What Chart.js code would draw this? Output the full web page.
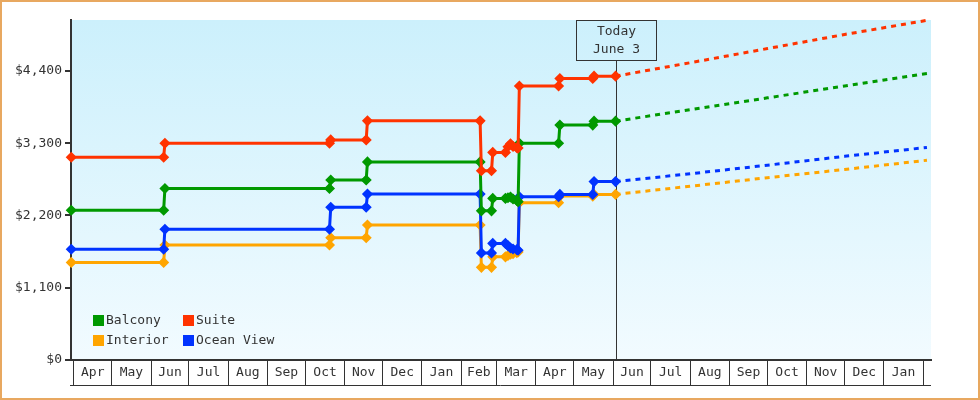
<!DOCTYPE html>
<html>
<head>
<meta charset="utf-8">
<script src="https://cdn.jsdelivr.net/npm/chart.js@4.4.0/dist/chart.umd.min.js"></script>
<style>
html,body{margin:0;padding:0;background:#fff;}
#wrap{width:980px;height:400px;position:relative;}
</style>
</head>
<body>
<div id="wrap"><canvas id="c" width="980" height="400"></canvas></div>
<script>
// ---------- DATA ----------
const monthNames = ['Jan','Feb','Mar','Apr','May','Jun','Jul','Aug','Sep','Oct','Nov','Dec'];

const historyDates = [
  '2017-03-30','2017-06-11','2017-06-12','2017-10-20','2017-10-21','2017-11-18','2017-11-19',
  '2018-02-16','2018-02-17','2018-02-25','2018-02-26','2018-03-08','2018-03-10','2018-03-12',
  '2018-03-14','2018-03-17','2018-03-18','2018-03-19','2018-04-19','2018-04-20','2018-05-16',
  '2018-05-17','2018-06-03'
];
const suitePrices     = [3085,3085,3300,3300,3350,3350,3640,3640,2880,2880,3160,3160,3245,3290,3250,3230,3225,4170,4170,4285,4285,4320,4320];
const balconyPrices   = [2280,2280,2610,2610,2740,2740,3015,3015,2270,2270,2460,2460,2470,2480,2450,2430,2410,3300,3300,3575,3575,3635,3635];
const oceanViewPrices = [1685,1685,1990,1990,2325,2325,2525,2525,1630,1630,1775,1775,1740,1705,1690,1680,1670,2485,2485,2520,2520,2715,2715];
const interiorPrices  = [1485,1485,1750,1750,1860,1860,2055,2055,1410,1410,1570,1570,1590,1610,1620,1635,1645,2395,2395,2495,2495,2520,2520];

const forecastDates = ['2018-06-03','2018-08-01','2018-10-01','2018-12-01','2019-02-04'];
const suiteForecast     = [4320,4525,4740,4955,5170];
const balconyForecast   = [3635,3810,3990,4170,4360];
const oceanViewForecast = [2715,2835,2965,3100,3235];
const interiorForecast  = [2520,2645,2775,2900,3040];

const yTickValues = [0,1100,2200,3300,4400];
const yMax = 5175;
const todayDate = '2018-06-03';
const todayLines = ['Today','June 3'];
const axisStartDate = '2017-03-30';
const axisEndDate = '2019-02-07';
const firstMonth = '2017-04-01';
const lastMonthEnd = '2019-02-01';

const seriesColors = {Balcony:'#009900', Suite:'#ff3300', Interior:'#ffa500', 'Ocean View':'#0033ff'};

// ---------- HELPERS ----------
const EPOCH = Date.UTC(2017,3,1);
const toDay = s => (Date.parse(s + 'T00:00:00Z') - EPOCH) / 864e5;
const FONT = '"DejaVu Sans Mono", monospace';
const INK = '#333333';

// month boundaries & label positions
const boundaries = [], mids = [], midLabels = [];
{
  const s = new Date(firstMonth + 'T00:00:00Z'), e = new Date(lastMonthEnd + 'T00:00:00Z');
  let y = s.getUTCFullYear(), m = s.getUTCMonth();
  while (Date.UTC(y,m,1) <= e.getTime()) {
    const a = (Date.UTC(y,m,1) - EPOCH)/864e5;
    boundaries.push(a);
    const b = (Date.UTC(y,m+1,1) - EPOCH)/864e5;
    if (Date.UTC(y,m+1,1) <= e.getTime()) { mids.push((a+b)/2); midLabels.push(monthNames[m]); }
    m++; if (m > 11) { m = 0; y++; }
  }
}

function mk(label, dates, vals, color, order, dashed) {
  return {
    label, order,
    data: dates.map((d,i) => ({x: toDay(d), y: vals[i]})),
    borderColor: color, backgroundColor: color,
    borderWidth: 3,
    borderDash: dashed ? [5,5] : [],
    pointStyle: 'rectRot',
    pointRadius: dashed ? 0 : 4.5,
    pointBorderWidth: 1.5,
    pointBorderColor: color,
    pointBackgroundColor: color,
    tension: 0, fill: false, clip: false
  };
}

const datasets = [
  mk('Suite', historyDates, suitePrices, seriesColors.Suite, 0, false),
  mk('Balcony', historyDates, balconyPrices, seriesColors.Balcony, 1, false),
  mk('Ocean View', historyDates, oceanViewPrices, seriesColors['Ocean View'], 2, false),
  mk('Interior', historyDates, interiorPrices, seriesColors.Interior, 3, false),
  mk('Suite forecast', forecastDates, suiteForecast, seriesColors.Suite, 4, true),
  mk('Balcony forecast', forecastDates, balconyForecast, seriesColors.Balcony, 5, true),
  mk('Ocean View forecast', forecastDates, oceanViewForecast, seriesColors['Ocean View'], 6, true),
  mk('Interior forecast', forecastDates, interiorForecast, seriesColors.Interior, 7, true)
];

const decor = {
  id: 'decor',
  beforeDraw(chart) {
    const {ctx, chartArea: a} = chart;
    ctx.save();
    ctx.fillStyle = '#ffffff';
    ctx.fillRect(0, 0, chart.width, chart.height);
    const g = ctx.createLinearGradient(0, a.top, 0, a.bottom);
    g.addColorStop(0, '#ccf0fc');
    g.addColorStop(1, '#f2fbff');
    ctx.fillStyle = g;
    ctx.fillRect(a.left, a.top, a.right - a.left, a.bottom - a.top);
    ctx.restore();
  },
  beforeDatasetsDraw(chart) {
    const {ctx, chartArea: a, scales} = chart;
    const x = Math.round(scales.x.getPixelForValue(toDay(todayDate))) + 0.5;
    ctx.save();
    ctx.strokeStyle = INK; ctx.lineWidth = 1;
    ctx.beginPath(); ctx.moveTo(x, a.top + 40); ctx.lineTo(x, a.bottom); ctx.stroke();
    ctx.restore();
  },
  afterDraw(chart) {
    const {ctx, chartArea: a, scales} = chart;
    ctx.save();
    // today box
    const x = Math.round(scales.x.getPixelForValue(toDay(todayDate))) + 0.5;
    ctx.strokeStyle = INK; ctx.lineWidth = 1;
    ctx.strokeRect(x - 40, a.top + 0.5, 80, 40);
    ctx.fillStyle = INK;
    ctx.font = '13px ' + FONT;
    ctx.textAlign = 'center'; ctx.textBaseline = 'middle';
    ctx.fillText(todayLines[0], x, a.top + 12);
    ctx.fillText(todayLines[1], x, a.top + 30);
    // bottom line of month boxes
    ctx.beginPath();
    ctx.moveTo(a.left - 1, a.bottom + 25.5); ctx.lineTo(a.right, a.bottom + 25.5); ctx.stroke();
    // legend
    const pos = [[93,315],[183,315],[93,335],[183,335]];
    const order = ['Balcony','Suite','Interior','Ocean View'];
    ctx.textAlign = 'left';
    order.forEach((n,i) => {
      const [lx, ly] = pos[i];
      ctx.fillStyle = seriesColors[n];
      ctx.fillRect(lx, ly, 11, 11);
      ctx.fillStyle = INK;
      ctx.fillText(n, lx + 13, ly + 6);
    });
    // outer border
    ctx.strokeStyle = '#e8a860'; ctx.lineWidth = 2;
    ctx.strokeRect(1, 1, chart.width - 2, chart.height - 2);
    ctx.restore();
  }
};

new Chart(document.getElementById('c'), {
  type: 'line',
  data: { datasets },
  options: {
    responsive: false, animation: false, events: [],
    layout: { padding: { top: 20, right: 49, left: 0, bottom: 0 } },
    plugins: { legend: { display: false }, tooltip: { enabled: false } },
    scales: {
      x: {
        type: 'linear',
        min: toDay(axisStartDate) - 0.2,
        max: toDay(axisEndDate) + 0.2,
        afterBuildTicks: s => {
          s.ticks = boundaries.map(v => ({value: v})).concat(mids.map(v => ({value: v})));
        },
        afterFit: s => { s.height = 40; },
        border: { display: true, color: INK, width: 2 },
        grid: {
          drawOnChartArea: false, drawTicks: true, tickLength: 25,
          color: c => (c.index < boundaries.length ? INK : 'rgba(0,0,0,0)'),
          lineWidth: 1
        },
        ticks: {
          autoSkip: false, maxRotation: 0, minRotation: 0,
          padding: -20,
          color: INK,
          font: { family: FONT, size: 13 },
          callback: (v, i) => (i < boundaries.length ? '' : midLabels[i - boundaries.length])
        }
      },
      y: {
        type: 'linear', min: 0, max: yMax,
        afterBuildTicks: s => { s.ticks = yTickValues.map(v => ({value: v})); },
        afterFit: s => { s.width = 71; },
        border: { display: true, color: INK, width: 2 },
        grid: { drawOnChartArea: false, drawTicks: true, tickLength: 6, color: INK, lineWidth: 2 },
        ticks: {
          padding: 3, color: INK,
          font: { family: FONT, size: 13 },
          callback: v => '$' + Number(v).toLocaleString('en-US')
        }
      }
    }
  },
  plugins: [decor]
});
</script>
</body>
</html>
